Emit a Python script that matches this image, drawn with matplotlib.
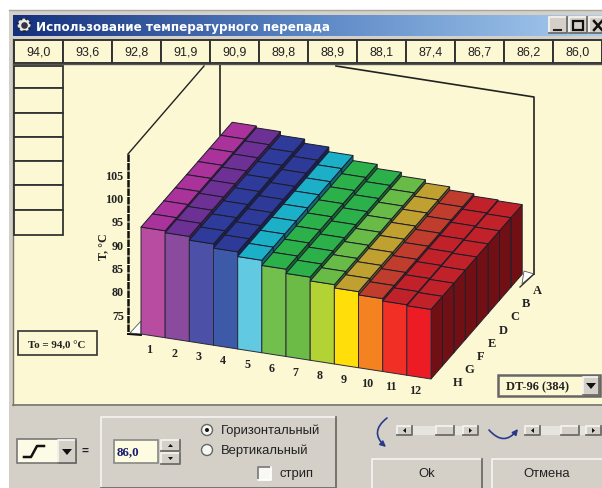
import numpy as np
import matplotlib
matplotlib.use('Agg')
import matplotlib.pyplot as plt
from matplotlib.patches import Polygon, Rectangle, Circle, FancyArrowPatch

# chart values
temps = [94.0, 93.6, 92.8, 91.9, 90.9, 89.8, 88.9, 88.1, 87.4, 86.7, 86.2, 86.0]
columns = ['1', '2', '3', '4', '5', '6', '7', '8', '9', '10', '11', '12']
rows = ['A', 'B', 'C', 'D', 'E', 'F', 'G', 'H']
y_ticks = [75, 80, 85, 90, 95, 100, 105]
title = 'Использование температурного перепада'
to_label = 'To = 94,0 °C'
plate_label = 'DT-96 (384)'
set_value = '86,0'

front_colors = ['#b84ca0', '#8a4a9e', '#4c50a6', '#3c5aa8', '#62c9e3', '#72bf4e',
                '#6cbb47', '#b3d334', '#ffde0a', '#f58220', '#f12f24', '#ed1c24']
top_colors = ['#a9329b', '#6d3196', '#2f3b9a', '#2e3a98', '#1cb0c8', '#2bb04a',
              '#2bb04a', '#68bb46', '#bfa030', '#c03c2c', '#c1222a', '#c1222a']
side_colors = ['#5e1c55', '#3e1c55', '#1a2058', '#1a2058', '#0e6a78', '#146a2c',
               '#146a2c', '#3a6a26', '#6e5a18', '#701f16', '#701014', '#701014']

cream = '#fcf8d4'
gray = '#d4d0c8'
dark = '#222222'

fig = plt.figure(figsize=(6.02, 4.89), dpi=100)
ax = fig.add_axes([0, 0, 1, 1])


def px(size):
    return size * 0.72


def project(col, row, temp):
    # col 0..12 left to right, row 0..8 front to back, oblique view
    x = 141 + 24.17 * col + 11.4 * row
    y = 335 + 3.75 * col - 13.1 * row - (temp - 71.1) * 4.67
    return x, y


def box(x0, y0, x1, y1, color, edge='none', lw=0.0, z=1):
    ax.add_patch(Rectangle((x0, y0), x1 - x0, y1 - y0, facecolor=color,
                           edgecolor=edge, linewidth=lw, zorder=z))


def raised(x0, y0, x1, y1, z=3, sunken=False, face=gray):
    box(x0, y0, x1, y1, face, z=z)
    hi, lo = ('#808080', '#ffffff') if sunken else ('#f4f2ee', '#6e6c68')
    ax.plot([x0, x0, x1], [y1, y0, y0], color=hi, lw=1.3, zorder=z)
    ax.plot([x0, x1, x1], [y1, y1, y0], color=lo, lw=1.3, zorder=z)


def ui_text(x, y, s, size=12, color='#222222', weight='normal', ha='center', family='Liberation Sans', **kw):
    ax.text(x, y, s, fontsize=px(size), color=color, weight=weight, ha=ha, va='center',
            family=family, zorder=8, **kw)


# window frame and title bar
box(9, 11, 602, 489, gray, z=0)
ax.plot([9, 602], [11, 11], color='#a8a6a0', lw=1, zorder=1)
grad = np.linspace(0, 1, 256).reshape(1, -1)
cmap = matplotlib.colors.LinearSegmentedColormap.from_list('title', ['#14307c', '#5a86c4', '#a8cdf0'])
ax.imshow(grad, extent=(13, 602, 37, 16), aspect='auto', cmap=cmap, zorder=1)
ui_text(36, 27, title, size=12, color='white', weight='bold', ha='left', family='DejaVu Sans')
ax.scatter(24, 26, s=85, color='#e8e8e8', edgecolor='#222222', linewidth=1.5, linestyle=':', zorder=6)
ax.scatter(24, 26, s=14, color='#333344', zorder=7)
for bx in [549, 569, 589]:
    raised(bx, 18, bx + 18, 34, z=4)
ax.plot([554, 561], [31, 31], color='#222222', lw=1.5, zorder=5)
box(573, 22, 583, 31, 'none', edge='#111111', lw=1.6, z=5)
ax.plot([594, 602], [22, 31], color='#111111', lw=1.8, zorder=5)
ax.plot([594, 602], [31, 22], color='#111111', lw=1.8, zorder=5)

# cream chart area
box(13, 40, 602, 405, cream, z=1)
ax.plot([13, 602], [406, 406], color='#777770', lw=1.2, zorder=2)
ax.plot([13, 13], [40, 406], color='#777770', lw=1.0, zorder=2)

# header cells with the temperatures
for i, t in enumerate(temps):
    x0 = 14 + 49 * i
    box(x0, 41, x0 + 49, 64, cream, edge='#333333', lw=1.4, z=3)
    ui_text(x0 + 24.5, 52.5, f'{t:.1f}'.replace('.', ','), size=12.5)
ax.plot([13, 602], [65, 65], color='#555555', lw=1.0, zorder=3)

# empty cells down the left side
left_edges = [67, 89, 114, 138, 162, 186, 211, 236]
for y0, y1 in zip(left_edges[:-1], left_edges[1:]):
    box(14, y0, 63, y1, cream, edge='#333333', lw=1.3, z=3)

# walls behind the bars
ax.plot([128, 204], [155, 67], color=dark, lw=1.0, zorder=2)
ax.plot([220, 220], [66, 136], color=dark, lw=1.2, zorder=2)
ax.plot([336, 534, 534], [67, 98, 275], color=dark, lw=1.2, zorder=2)
ax.plot([128, 128], [155, 335], color='#111111', lw=1.8, zorder=2, linestyle=(0, (3, 0.4)))
ax.add_patch(Polygon([(130, 334), (141, 322), (141, 335)], facecolor='white', edgecolor='#555555', lw=0.6, zorder=2))
ax.add_patch(Polygon([(522, 285), (534, 275), (524, 272)], facecolor='white', edgecolor='#555555', lw=0.6, zorder=2))
ax.plot([128, 141], [335, 336], color='#111111', lw=1.4, zorder=2)
ax.plot([520, 534], [288, 275], color='#333333', lw=1.0, zorder=2)

# bars, painted from the back row forward and left to right
edge = '#1c1c2a'
for r in range(len(rows) - 1, -1, -1):
    for c, t in enumerate(temps):
        z = 4 + (len(rows) - r) * 0.01 + c * 0.0001
        top = [project(c, r, t), project(c + 1, r, t), project(c + 1, r + 1, t), project(c, r + 1, t)]
        front = [project(c, r, 71.1), project(c + 1, r, 71.1), project(c + 1, r, t), project(c, r, t)]
        side = [project(c + 1, r, 71.1), project(c + 1, r + 1, 71.1), project(c + 1, r + 1, t), project(c + 1, r, t)]
        ax.add_patch(Polygon(side, facecolor=side_colors[c], edgecolor=edge, lw=0.6, zorder=z))
        ax.add_patch(Polygon(front, facecolor=front_colors[c], edgecolor='#2a2a3a', lw=0.7, zorder=z))
        ax.add_patch(Polygon(top, facecolor=top_colors[c], edgecolor=edge, lw=0.7, zorder=z))

# axis labels
for v in y_ticks:
    _, yy = project(0, 0, v)
    ax.text(124, yy, str(v), ha='right', va='center', fontsize=px(12), family='Liberation Serif',
            weight='bold', color='#222222', zorder=8)
ax.text(103, 247, 'T, °C', rotation=90, ha='center', va='center', fontsize=px(12), family='Liberation Serif',
        weight='bold', color='#222222', zorder=8)
for c, name in enumerate(columns):
    x, y = project(c, 0, 71.1)
    ax.text(x + 9.5, y + 15, name, ha='center', va='center', fontsize=px(12), family='Liberation Serif',
            weight='bold', color='#222222', zorder=8)
for r, name in enumerate(rows[::-1]):
    x, y = project(12, r, 71.1)
    ax.text(x + 27, y + 3, name, ha='center', va='center', fontsize=px(12.5), family='Liberation Serif',
            weight='bold', color='#222222', zorder=8)

# boxes inside the chart
box(18, 332, 97, 356, cream, edge='#333333', lw=1.2, z=3)
ui_text(57, 345, to_label, size=11, weight='bold', family='Liberation Serif')
box(498, 376, 600, 397, cream, edge='#666666', lw=1.8, z=3)
ui_text(506, 387, plate_label, size=12.5, weight='bold', ha='left', family='Liberation Serif')
raised(583, 378, 599, 396, z=4)
ax.add_patch(Polygon([(586, 384), (596, 384), (591, 390)], facecolor='#111111', zorder=5))

# controls under the chart
box(17, 440, 76, 464, '#fdfbe6', edge='#777777', lw=1.2, z=3)
ax.plot([24, 31, 37, 44], [458, 458, 447, 447], color='#111111', lw=1.8, zorder=4)
raised(58, 441, 76, 464, z=4)
ax.add_patch(Polygon([(62, 450), (72, 450), (67, 456)], facecolor='#111111', zorder=5))
ui_text(85, 452, '=', size=12, weight='bold')

raised(101, 418, 336, 489, z=2)
box(114, 441, 158, 464, '#fdfbe0', edge='#888888', lw=1.2, z=3)
ui_text(117, 452, set_value, size=13, color='#1a1a70', weight='bold', ha='left', family='Liberation Serif')
raised(161, 441, 180, 452, z=3)
raised(161, 454, 180, 465, z=3)
ax.add_patch(Polygon([(168, 448), (173, 448), (170.5, 445)], facecolor='#111111', zorder=5))
ax.add_patch(Polygon([(168, 458), (173, 458), (170.5, 461)], facecolor='#111111', zorder=5))
for yy in [431, 451]:
    ax.add_patch(Circle((207, yy), 5.5, facecolor='#f6f6f2', edgecolor='#666666', lw=1, zorder=4))
ax.add_patch(Circle((207, 431), 2, facecolor='#111111', zorder=5))
ui_text(221, 431, 'Горизонтальный', size=13, ha='left')
ui_text(221, 451, 'Вертикальный', size=13, ha='left')
raised(258, 468, 271, 481, z=4, sunken=True, face='#f8f8f4')
ui_text(279, 474, 'стрип', size=13, ha='left')

# rotation sliders
for x0, x1 in [(397, 478), (525, 601)]:
    box(x0, 427, x1, 436, '#e6e4de', z=3)
    raised(x0, 427, x0 + 15, 436, z=4)
    raised(x1 - 15, 427, x1, 436, z=4)
    raised((x0 + x1) / 2 - 2, 427, (x0 + x1) / 2 + 16, 436, z=4)
    ax.add_patch(Polygon([(x0 + 9, 429), (x0 + 9, 434), (x0 + 6, 431.5)], facecolor='#111111', zorder=5))
    ax.add_patch(Polygon([(x1 - 9, 429), (x1 - 9, 434), (x1 - 6, 431.5)], facecolor='#111111', zorder=5))
ax.add_patch(FancyArrowPatch((387, 419), (386, 448), connectionstyle='arc3,rad=0.6', arrowstyle='-|>',
                             mutation_scale=8, color='#2a3a8a', lw=1.2, shrinkA=0, shrinkB=0, zorder=5))
ax.add_patch(FancyArrowPatch((489, 431), (518, 430), connectionstyle='arc3,rad=0.6', arrowstyle='-|>',
                             mutation_scale=8, color='#2a3a8a', lw=1.2, shrinkA=0, shrinkB=0, zorder=5))

# buttons
raised(372, 460, 482, 492, z=3)
ui_text(427, 474, 'Ok', size=13)
raised(492, 460, 604, 492, z=3)
ui_text(547, 474, 'Отмена', size=13)

ax.set_xlim(0, 602)
ax.set_ylim(489, 0)
ax.axis('off')
fig.savefig('out.png', dpi=100, facecolor='white')
